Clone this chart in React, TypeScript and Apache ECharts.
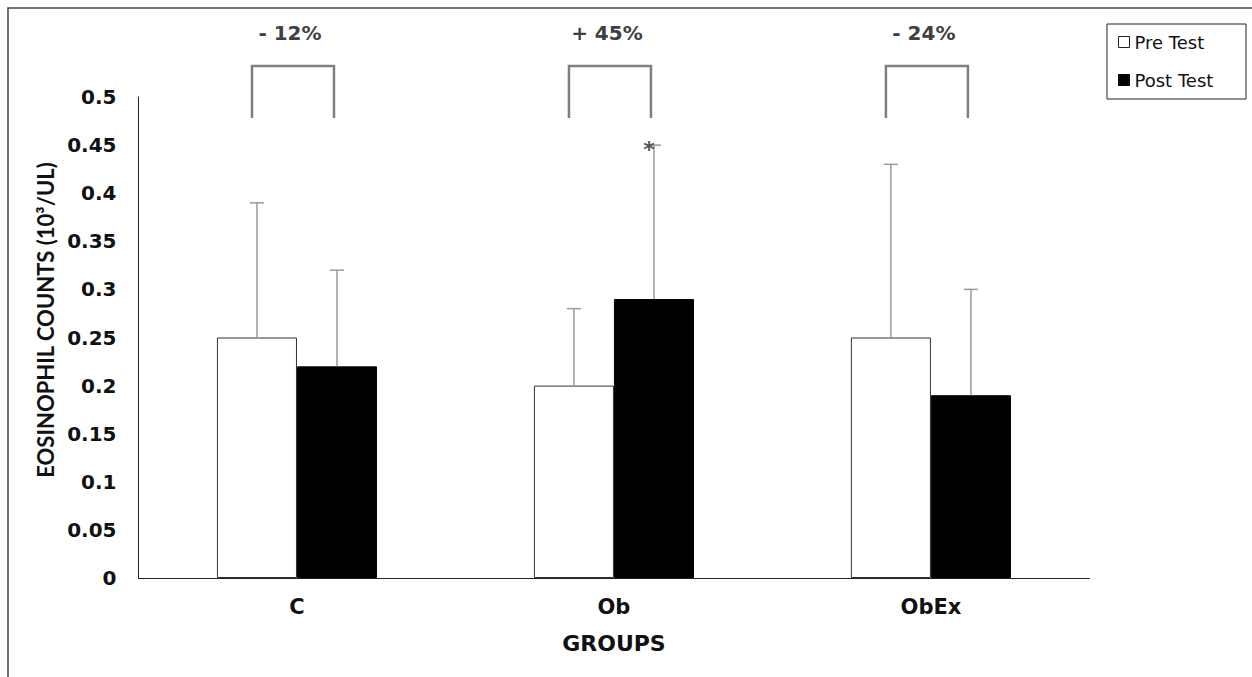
import React, { useEffect, useRef } from "react";
import * as echarts from "echarts";

const categories = ["C", "Ob", "ObEx"];
const preTest = [0.25, 0.2, 0.25];
const postTest = [0.22, 0.29, 0.19];
const preErrTop = [0.39, 0.28, 0.43];
const postErrTop = [0.32, 0.45, 0.3];
const postSignificance = ["", "*", ""];
const changes = ["- 12%", "+ 45%", "- 24%"];
const yTicks = { min: 0, max: 0.5, interval: 0.05 };

const FONT = "'DejaVu Sans', sans-serif";
const GAP = 0.495;

export default function App() {
  const ref = useRef<HTMLDivElement>(null);
  useEffect(() => {
    document.body.style.margin = "0";
    const chart = echarts.init(ref.current!, null, { renderer: "svg" });

    const errSeries = (vals: number[], tops: number[], side: number, marks: string[]) => ({
      type: "custom",
      clip: false,
      z: 5,
      silent: true,
      data: vals.map((v, i) => [i, v, tops[i]]),
      encode: { x: 0, y: 1 },
      renderItem: (params: any, api: any) => {
        const i = api.value(0);
        const base = api.coord([i, api.value(1)]);
        const top = api.coord([i, api.value(2)]);
        const catW = api.size([1, 0])[0];
        const bw = (catW * (1 - GAP)) / 2;
        const x = base[0] + (side * bw) / 2;
        const children: any[] = [
          {
            type: "line",
            shape: { x1: x, y1: base[1], x2: x, y2: top[1] },
            style: { stroke: "#9a9a9a", lineWidth: 1.5 },
          },
          {
            type: "line",
            shape: { x1: x - 7, y1: top[1], x2: x + 7, y2: top[1] },
            style: { stroke: "#9a9a9a", lineWidth: 1.5 },
          },
        ];
        const m = marks[params.dataIndex];
        if (m) {
          children.push({
            type: "text",
            style: {
              text: m,
              x: x - 5,
              y: top[1] + 4,
              align: "center",
              verticalAlign: "middle",
              fontSize: 22,
              fontWeight: "bold",
              fontFamily: FONT,
              fill: "#555",
            },
          });
        }
        return { type: "group", children };
      },
    });

    const option: any = {
      animation: false,
      backgroundColor: "#fff",
      grid: { left: 138.5, right: 162.6, top: 97, bottom: 99 },
      legend: {
        orient: "vertical",
        left: 1118,
        top: 32,
        padding: 0,
        itemGap: 18,
        itemWidth: 11,
        itemHeight: 11,
        icon: "rect",
        textStyle: { fontSize: 18, fontFamily: FONT, color: "#111", lineHeight: 20 },
        data: [
          { name: "Pre Test", itemStyle: { color: "#fff", borderColor: "#222", borderWidth: 1 } },
          { name: "Post Test", itemStyle: { color: "#000", borderColor: "#000", borderWidth: 1 } },
        ],
      },
      xAxis: {
        type: "category",
        data: categories,
        name: "GROUPS",
        nameLocation: "middle",
        nameGap: 54,
        nameTextStyle: { fontSize: 22, fontWeight: "bold", fontFamily: FONT, color: "#111" },
        axisLine: { lineStyle: { color: "#222", width: 1 } },
        axisTick: { show: false },
        axisLabel: { margin: 18, fontSize: 21, fontWeight: "bold", fontFamily: FONT, color: "#111" },
      },
      yAxis: {
        type: "value",
        min: yTicks.min,
        max: yTicks.max,
        interval: yTicks.interval,
        splitLine: { show: false },
        axisLine: { show: true, lineStyle: { color: "#222", width: 1 } },
        axisTick: { show: false },
        axisLabel: { margin: 22, fontSize: 20, fontWeight: "bold", fontFamily: FONT, color: "#111" },
      },
      graphic: [
        {
          type: "rect",
          shape: { x: 8, y: 8, width: 1400, height: 800 },
          style: { fill: "none", stroke: "#444", lineWidth: 1.5 },
          silent: true,
          z: -1,
        },
        {
          type: "rect",
          shape: { x: 1107, y: 24, width: 139, height: 75 },
          style: { fill: "#fff", stroke: "#222", lineWidth: 1 },
          silent: true,
          z: -1,
        },
        {
          type: "text",
          x: 45,
          y: 320,
          rotation: Math.PI / 2,
          style: {
            text: "EOSINOPHIL COUNTS (10³/UL)",
            align: "center",
            verticalAlign: "middle",
            fontSize: 22,
            fontWeight: "bold",
            fontFamily: "Lato, sans-serif",
            fill: "#111",
          },
        },
      ],
      series: [
        {
          name: "Pre Test",
          type: "bar",
          data: preTest,
          barGap: "0%",
          barCategoryGap: GAP * 100 + "%",
          itemStyle: { color: "#fff", borderColor: "#333", borderWidth: 1 },
        },
        {
          name: "Post Test",
          type: "bar",
          data: postTest,
          barGap: "0%",
          barCategoryGap: GAP * 100 + "%",
          itemStyle: { color: "#000", borderColor: "#000", borderWidth: 1 },
        },
        errSeries(preTest, preErrTop, -1, ["", "", ""]),
        errSeries(postTest, postErrTop, 1, postSignificance),
        {
          type: "custom",
          clip: false,
          silent: true,
          data: categories.map((_, i) => [i, 0.5]),
          encode: { x: 0, y: 1 },
          renderItem: (params: any, api: any) => {
            const i = api.value(0);
            const p = api.coord([i, 0.5]);
            const cx = p[0];
            const yTop = p[1] - 31;
            const yBot = p[1] + 21;
            return {
              type: "group",
              children: [
                {
                  type: "polyline",
                  shape: { points: [[cx - 45, yBot], [cx - 45, yTop], [cx + 37, yTop], [cx + 37, yBot]] },
                  style: { stroke: "#7f7f7f", lineWidth: 2.5, fill: "none" },
                },
                {
                  type: "text",
                  style: {
                    text: changes[params.dataIndex],
                    x: cx - 7,
                    y: p[1] - 64,
                    align: "center",
                    verticalAlign: "middle",
                    fontSize: 20,
                    fontWeight: "bold",
                    fontFamily: FONT,
                    fill: "#404040",
                  },
                },
              ],
            };
          },
        },
      ],
    };
    chart.setOption(option);
    return () => chart.dispose();
  }, []);
  return <div ref={ref} style={{ width: 1252, height: 677 }} />;
}
